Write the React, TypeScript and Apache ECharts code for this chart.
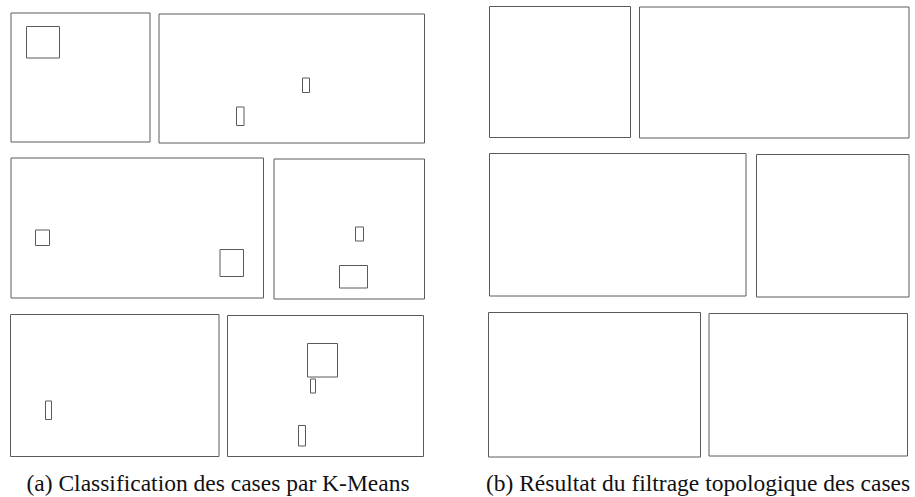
import React, { useEffect, useRef } from "react";
import * as echarts from "echarts";

// Rectangles as [x0, y0, x1, y1] in picture units (origin top-left)
const panelsA: number[][] = [
  [11, 13, 150, 142],
  [159, 14, 424.5, 143],
  [11, 158, 263.5, 298],
  [274, 159, 424.5, 299],
  [10.5, 314.5, 219, 456.5],
  [227.5, 315.5, 423.5, 456.5],
];
const blobsA: number[][] = [
  [26.5, 26.5, 59.5, 58],
  [302.5, 78, 309.5, 92.5],
  [236.5, 107, 244, 125.5],
  [35.5, 230, 49.5, 245.5],
  [220, 249.5, 243.5, 276.5],
  [355.5, 227, 363.5, 241],
  [339.5, 265.5, 367.5, 288],
  [45.5, 401, 51.5, 419.5],
  [307.5, 343.5, 337.5, 377],
  [310.5, 379, 315.5, 393],
  [298.5, 425.5, 305.5, 446],
];
const panelsB: number[][] = [
  [489.5, 6.5, 630.5, 137.5],
  [639.5, 7, 909, 138],
  [489.5, 153.5, 746, 296],
  [756.5, 154.5, 909, 297],
  [488.5, 312.5, 700.5, 457],
  [709, 313.5, 907.5, 456],
];
const captions: string[] = [
  "(a) Classification des cases par K-Means",
  "(b) Résultat du filtrage topologique des cases",
];
const captionCenters: number[] = [218, 698];

const W = 915;
const H = 497;

function rectSeries(name: string, data: number[][]) {
  return {
    type: "custom",
    name,
    coordinateSystem: "cartesian2d",
    silent: true,
    data,
    encode: { x: [0, 2], y: [1, 3] },
    renderItem: (_params: any, api: any) => {
      const p0 = api.coord([api.value(0), api.value(1)]);
      const p1 = api.coord([api.value(2), api.value(3)]);
      return {
        type: "rect",
        shape: {
          x: Math.min(p0[0], p1[0]),
          y: Math.min(p0[1], p1[1]),
          width: Math.abs(p1[0] - p0[0]),
          height: Math.abs(p1[1] - p0[1]),
        },
        style: { fill: "none", stroke: "#5a5a5a", lineWidth: 1 },
      };
    },
  };
}

export default function App() {
  const ref = useRef<HTMLDivElement>(null);
  useEffect(() => {
    if (!ref.current) return;
    const chart = echarts.init(ref.current, undefined, { renderer: "svg" });
    chart.setOption({
      animation: false,
      backgroundColor: "#ffffff",
      grid: { left: 0, right: 0, top: 0, bottom: 0 },
      xAxis: { type: "value", min: 0, max: W, show: false },
      yAxis: { type: "value", min: 0, max: H, inverse: true, show: false },
      series: [
        rectSeries("panelsA", panelsA),
        rectSeries("blobsA", blobsA),
        rectSeries("panelsB", panelsB),
      ],
      graphic: captions.map((t, i) => ({
        type: "text",
        x: captionCenters[i],
        y: 495,
        silent: true,
        style: {
          text: t,
          fill: "#111",
          fontFamily: "Times New Roman, serif",
          fontSize: 23.5,
          textAlign: "center",
          textVerticalAlign: "bottom",
        },
      })),
    });
    return () => chart.dispose();
  }, []);
  return (
    <div
      ref={ref}
      style={{ position: "fixed", left: 0, top: 0, width: W, height: H }}
    />
  );
}
